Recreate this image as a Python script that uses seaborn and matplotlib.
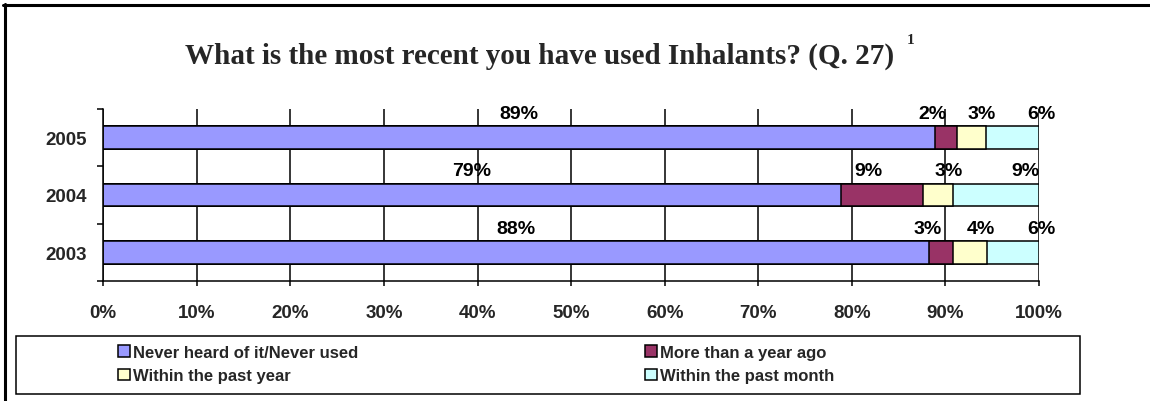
import matplotlib
matplotlib.use("Agg")
import matplotlib.pyplot as plt
import seaborn as sns
import pandas as pd
import numpy as np
from matplotlib.patches import Patch, Rectangle
from matplotlib.lines import Line2D

# ---------------- data ----------------
years = ["2005", "2004", "2003"]
series_names = ["Never heard of it/Never used", "More than a year ago",
                "Within the past year", "Within the past month"]
never_used = [88.9, 78.8, 88.2]
more_than_year = [2.3, 8.8, 2.6]
within_year = [3.1, 3.2, 3.6]
within_month = [5.7, 9.2, 5.6]
colors = ["#9999FF", "#993366", "#FFFFCC", "#CCFFFF"]
title = "What is the most recent you have used Inhalants? (Q. 27)"
footnote_mark = "1"
x_ticks = list(range(0, 101, 10))
x_tick_labels = [f"{t}%" for t in x_ticks]

# ---------------- style ----------------
sns.set_theme(style="white")
plt.rcParams["font.family"] = ["Liberation Sans", "DejaVu Sans"]

W, H = 1150, 402
fig = plt.figure(figsize=(W / 100, H / 100), dpi=100)
ax = fig.add_axes([103.3 / W, 1 - 282 / H, (1039 - 103.3) / W, (282 - 110) / H])

series = [never_used, more_than_year, within_year, within_month]
cum = np.cumsum(np.array(series), axis=0)

for i in range(3, -1, -1):
    df = pd.DataFrame({"year": years, "value": cum[i]})
    sns.barplot(data=df, x="value", y="year", order=years, color=colors[i],
                saturation=1, edgecolor="black", linewidth=1.1, width=0.4,
                errorbar=None, ax=ax, orient="h")

# data labels
dx_pts = [0, -9.4, 7.9, 20.9]
for i, vals in enumerate(series):
    for j, v in enumerate(vals):
        left = cum[i][j] - v
        ax.annotate(f"{round(v)}%", xy=(left + v / 2, j), xytext=(dx_pts[i], 17.5),
                    textcoords="offset points", ha="center", va="center",
                    fontsize=14, fontweight="bold", color="black")

ax.set_xlim(0, 100)
ax.set_ylim(2.5, -0.5)
ax.set_xticks(x_ticks)
ax.set_xticklabels(x_tick_labels, fontsize=13.5, fontweight="bold")
ax.set_yticks(range(len(years)))
ax.set_yticklabels(years, fontsize=13.5, fontweight="bold")
ax.set_yticks([-0.5, 0.5, 1.5, 2.5], minor=True)
ax.tick_params(bottom=True, left=True, which="both")
ax.tick_params(axis="y", which="major", length=0, pad=11.5)
ax.tick_params(axis="y", which="minor", length=4.3, width=1.1, color="black", direction="out")
ax.tick_params(axis="x", which="major", length=3.6, width=1.1, color="black",
               direction="out", pad=13)
ax.set_xlabel("")
ax.set_ylabel("")
ax.xaxis.grid(True, color="black", linewidth=1.1)
ax.yaxis.grid(False)
ax.set_axisbelow(True)
for s in ["top", "right"]:
    ax.spines[s].set_visible(False)
for s in ["left", "bottom"]:
    ax.spines[s].set_color("black")
    ax.spines[s].set_linewidth(1.1)

# title
fig.text(540 / W, 1 - 56.5 / H, title, ha="center", va="center",
         family=["Liberation Serif", "DejaVu Serif"], fontweight="bold", fontsize=21)
fig.text(911 / W, 1 - 40 / H, footnote_mark, ha="center", va="center",
         family=["Liberation Serif", "DejaVu Serif"], fontweight="bold", fontsize=11)

# legend
handles = [Patch(facecolor=c, edgecolor="black", linewidth=1.1) for c in colors]
common = dict(loc="upper left", frameon=False, borderpad=0, borderaxespad=0,
              handlelength=0.72, handleheight=0.72, handletextpad=0.2,
              labelspacing=0.5, prop=dict(size=12, weight="bold"))
fig.legend(handles=[handles[0], handles[2]], labels=[series_names[0], series_names[2]],
           bbox_to_anchor=(118 / W, 1 - 346 / H), **common)
fig.legend(handles=[handles[1], handles[3]], labels=[series_names[1], series_names[3]],
           bbox_to_anchor=(645 / W, 1 - 346 / H), **common)
fig.add_artist(Rectangle((16 / W, 1 - 395 / H), (1080 - 16) / W, (395 - 337) / H,
                         transform=fig.transFigure, fill=False, edgecolor="black",
                         linewidth=1.1))

# outer frame (top and left)
fig.add_artist(Line2D([3 / W, 1], [1 - 6 / H, 1 - 6 / H], transform=fig.transFigure,
                      color="black", linewidth=2.2))
fig.add_artist(Line2D([4.5 / W, 4.5 / W], [0, 1 - 5 / H], transform=fig.transFigure,
                      color="black", linewidth=2.2))

fig.savefig("out.png", dpi=100)
